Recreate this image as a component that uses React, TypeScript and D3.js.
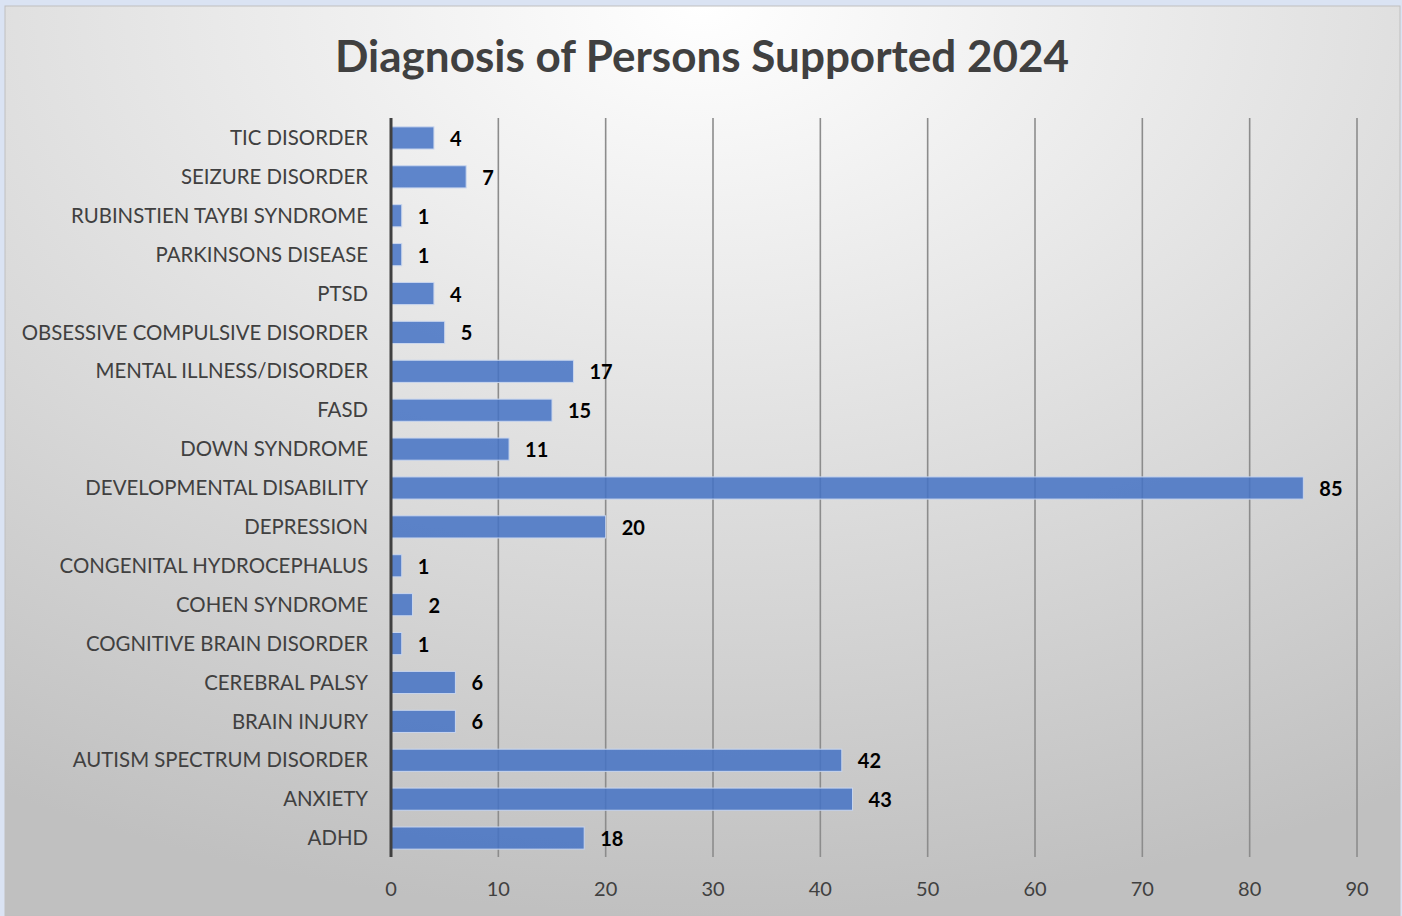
import React from "react";
import * as d3 from "d3";

const categories = [
  "TIC DISORDER",
  "SEIZURE DISORDER",
  "RUBINSTIEN TAYBI SYNDROME",
  "PARKINSONS DISEASE",
  "PTSD",
  "OBSESSIVE COMPULSIVE DISORDER",
  "MENTAL ILLNESS/DISORDER",
  "FASD",
  "DOWN SYNDROME",
  "DEVELOPMENTAL DISABILITY",
  "DEPRESSION",
  "CONGENITAL HYDROCEPHALUS",
  "COHEN SYNDROME",
  "COGNITIVE BRAIN DISORDER",
  "CEREBRAL PALSY",
  "BRAIN INJURY",
  "AUTISM SPECTRUM DISORDER",
  "ANXIETY",
  "ADHD",
];
const values = [4, 7, 1, 1, 4, 5, 17, 15, 11, 85, 20, 1, 2, 1, 6, 6, 42, 43, 18];
const xTicks = [0, 10, 20, 30, 40, 50, 60, 70, 80, 90];
const title = "Diagnosis of Persons Supported 2024";

const W = 1402;
const H = 916;
const FONT = "Lato, 'Open Sans', sans-serif";

export default function App() {
  const x = d3.scaleLinear().domain([0, 90]).range([391, 1357]);
  const y = d3.scaleBand().domain(categories).range([118.5, 857.5]).paddingInner(0.43).paddingOuter(0.215);
  const bh = y.bandwidth();
  return (
    <svg width={W} height={H} style={{ position: "absolute", left: 0, top: 0, display: "block" }}>
      <defs>
        <radialGradient id="bg" cx="0.5" cy="0" r="1.0" gradientUnits="objectBoundingBox" fx="0.5" fy="0">
          <stop offset="0" stopColor="#ffffff" />
          <stop offset="1" stopColor="#c0c0c0" />
        </radialGradient>
      </defs>
      <rect x={0} y={0} width={W} height={H} fill="#dae3f3" />
      <rect x={5} y={6} width={W - 7} height={H - 6} fill="url(#bg)" stroke="#bfbfbf" strokeWidth={1} />
      <text x={702} y={72} textAnchor="middle" fontFamily={FONT} fontWeight={700} fontSize={44} fill="#404040">
        {title}
      </text>
      {xTicks.map((t) =>
        t === 0 ? null : (
          <line key={"g" + t} x1={x(t)} x2={x(t)} y1={118} y2={857} stroke="#8c8c8c" strokeWidth={1.6} />
        )
      )}
      {categories.map((c, i) => (
        <g key={c}>
          <rect
            x={x(0)}
            y={y(c)!}
            width={x(values[i]) - x(0)}
            height={bh}
            fill="#4472c4"
            fillOpacity={0.85}
            stroke="#c9d6ee"
            strokeWidth={1}
          />
          <text
            x={368}
            y={y(c)! + bh / 2}
            dy="0.35em"
            textAnchor="end"
            fontFamily={FONT}
            fontSize={20.4}
            fill="#404040"
          >
            {c}
          </text>
          <text
            x={x(values[i]) + 16}
            y={y(c)! + bh / 2}
            dy="0.4em"
            textAnchor="start"
            fontFamily={FONT}
            fontWeight={700}
            fontSize={20}
            fill="#000000"
          >
            {values[i]}
          </text>
        </g>
      ))}
      <line x1={x(0)} x2={x(0)} y1={118} y2={857} stroke="#404040" strokeWidth={3} />
      {xTicks.map((t) => (
        <text key={"t" + t} x={x(t)} y={896} textAnchor="middle" fontFamily={FONT} fontSize={20} fill="#404040">
          {t}
        </text>
      ))}
    </svg>
  );
}
